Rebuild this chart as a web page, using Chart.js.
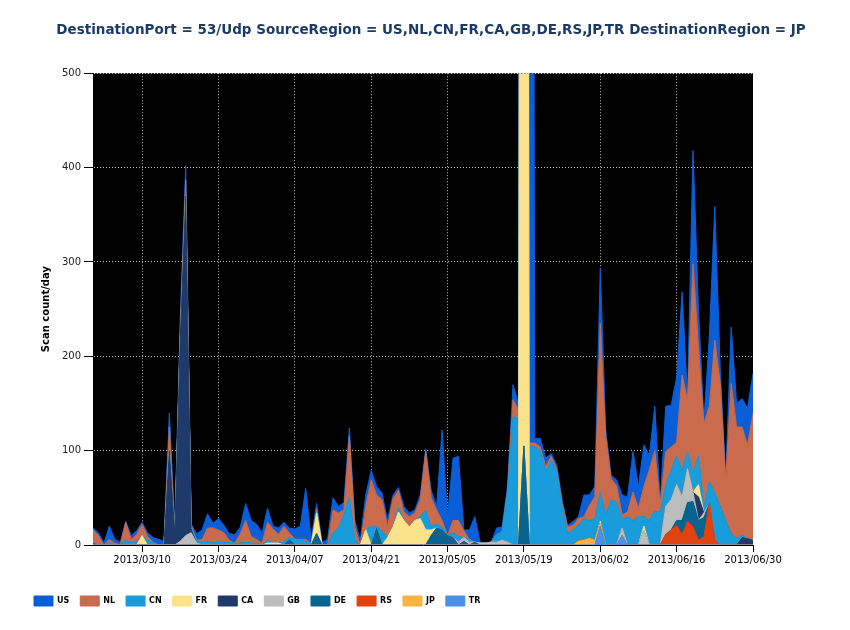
<!DOCTYPE html>
<html>
<head>
<meta charset="utf-8">
<script src="https://cdn.jsdelivr.net/npm/chart.js@4.4.0/dist/chart.umd.min.js"></script>
<style>
  html, body { margin: 0; padding: 0; background: #fff; }
</style>
</head>
<body>
<canvas id="scanChart" width="850" height="630"></canvas>
<script>
// daily categories 2013/03/01 .. 2013/06/30
const days = [];
for (let t = Date.UTC(2013, 2, 1); t <= Date.UTC(2013, 5, 30); t += 86400000) {
  const d = new Date(t);
  days.push(d.getUTCFullYear() + "/" + String(d.getUTCMonth() + 1).padStart(2, "0") + "/" + String(d.getUTCDate()).padStart(2, "0"));
}

const tickLabels = ["2013/03/10", "2013/03/24", "2013/04/07", "2013/04/21", "2013/05/05",
  "2013/05/19", "2013/06/02", "2013/06/16", "2013/06/30"];

// scan counts per day (layer thickness in the stack)
const US = [
  2, 3, 2, 14, 4, 3, 1, 4, 4, 2,
  4, 5, 6, 4, 15, 8, 10, 15, 1, 7,
  10, 15, 5, 12, 8, 7, 9, 7, 18, 17,
  16, 11, 15, 3, 7, 4, 5, 11, 14, 54,
  4, 6, 3, 6, 13, 7, 8, 9, 7, 5,
  12, 10, 9, 7, 6, 4, 3, 6, 4, 3,
  5, 3, 8, 4, 96, 20, 66, 68, 1, 10,
  27, 0, 0, 0, 7, 5, 4, 16, 7, 30,
  3000, 5, 9, 9, 3, 4, 4, 2, 4, 2,
  23, 11, 11, 58, 7, 4, 6, 21, 16, 43,
  23, 44, 15, 47, 2, 48, 44, 69, 88, 3,
  120, 40, 3, 74, 142, 14, 2, 60, 25, 30,
  39, 43
];
const NL = [
  14, 10, 0, 3, 2, 0, 19, 3, 7, 12,
  4, 0, 0, 0, 25, 0, 10, 15, 2, 0,
  3, 14, 16, 12, 10, 2, 0, 10, 23, 7,
  4, 2, 19, 15, 9, 17, 5, 0, 1, 2,
  0, 2, 0, 0, 24, 16, 5, 64, 14, 0,
  25, 49, 34, 33, 12, 30, 18, 9, 11, 8,
  18, 62, 30, 15, 7, 0, 13, 17, 7, 0,
  0, 0, 0, 0, 0, 0, 3, 18, 9, 5,
  3, 4, 4, 5, 4, 3, 3, 7, 5, 7,
  2, 16, 23, 179, 83, 22, 18, 5, 5, 30,
  9, 32, 54, 64, 9, 35, 25, 14, 101, 55,
  222, 115, 88, 80, 162, 130, 43, 159, 118, 115,
  99, 134
];
const CN = [
  0, 0, 0, 3, 0, 0, 5, 3, 4, 0,
  5, 3, 0, 0, 0, 0, 0, 2, 2, 3,
  3, 4, 2, 4, 3, 3, 2, 2, 3, 2,
  2, 0, 3, 0, 0, 3, 2, 6, 5, 4,
  2, 2, 0, 0, 13, 18, 32, 51, 5, 0,
  0, 20, 1, 15, 0, 0, 5, 0, 0, 0,
  2, 21, 4, 4, 3, 0, 5, 6, 0, 3,
  0, 0, 0, 0, 8, 9, 52, 136, 134, 20,
  105, 104, 100, 78, 90, 78, 41, 12, 16, 17,
  23, 19, 23, 31, 32, 48, 45, 9, 30, 26,
  30, 10, 26, 36, 35, 23, 31, 31, 28, 18,
  20, 31, 7, 23, 50, 41, 26, 12, 7, 2,
  0, 0
];
const FR = [
  0, 0, 0, 0, 0, 0, 0, 0, 0, 10,
  0, 0, 0, 0, 0, 0, 0, 0, 0, 0,
  0, 0, 0, 0, 0, 0, 0, 0, 0, 0,
  0, 0, 2, 2, 2, 0, 0, 0, 0, 0,
  0, 22, 0, 0, 0, 0, 0, 0, 0, 0,
  16, 0, 0, 0, 8, 19, 35, 26, 19, 26,
  28, 16, 6, 0, 0, 0, 0, 0, 0, 0,
  0, 0, 0, 0, 0, 0, 0, 0, 0, 3000,
  0, 0, 0, 0, 0, 0, 0, 0, 0, 0,
  0, 0, 0, 2, 0, 0, 0, 0, 0, 0,
  0, 5, 0, 0, 0, 0, 0, 0, 0, 0,
  0, 13, 0, 0, 0, 0, 0, 0, 0, 0,
  0, 0
];
const CA = [
  0, 0, 0, 0, 0, 0, 0, 0, 0, 0,
  0, 0, 0, 0, 100, 12, 216, 360, 4, 0,
  0, 0, 0, 0, 0, 0, 0, 0, 0, 0,
  0, 0, 0, 0, 0, 0, 0, 0, 0, 0,
  0, 0, 0, 0, 0, 0, 0, 0, 0, 0,
  0, 0, 0, 0, 0, 0, 0, 0, 0, 0,
  0, 0, 0, 0, 0, 0, 0, 0, 0, 0,
  0, 0, 0, 0, 0, 0, 0, 0, 0, 0,
  0, 0, 0, 0, 0, 0, 0, 0, 0, 0,
  0, 0, 0, 0, 0, 0, 0, 0, 0, 0,
  0, 0, 0, 0, 0, 0, 0, 0, 0, 0,
  0, 25, 0, 0, 0, 0, 0, 0, 0, 8,
  7, 5
];
const GB = [
  0, 0, 0, 0, 0, 0, 0, 0, 0, 0,
  0, 0, 0, 0, 0, 0, 4, 10, 13, 2,
  0, 0, 0, 0, 0, 0, 0, 0, 0, 0,
  0, 0, 0, 0, 0, 0, 0, 0, 0, 0,
  0, 0, 0, 0, 0, 0, 0, 0, 0, 0,
  0, 0, 0, 0, 0, 0, 0, 0, 0, 0,
  0, 0, 0, 0, 0, 0, 0, 3, 4, 3,
  0, 2, 2, 3, 3, 5, 3, 0, 0, 0,
  0, 0, 0, 0, 0, 0, 0, 0, 0, 0,
  0, 0, 0, 0, 0, 0, 0, 8, 0, 0,
  0, 15, 0, 0, 0, 30, 32, 38, 25, 36,
  10, 0, 5, 0, 0, 0, 0, 0, 0, 0,
  0, 0
];
const DE = [
  2, 0, 0, 0, 0, 0, 0, 0, 0, 0,
  0, 0, 0, 0, 0, 0, 0, 0, 0, 0,
  0, 0, 0, 0, 0, 0, 0, 0, 0, 0,
  0, 0, 0, 0, 0, 0, 6, 0, 0, 0,
  0, 12, 0, 0, 0, 0, 0, 0, 0, 0,
  0, 0, 18, 0, 0, 0, 0, 0, 0, 0,
  0, 0, 10, 18, 16, 10, 8, 0, 4, 0,
  3, 0, 0, 0, 0, 0, 0, 0, 0, 105,
  0, 0, 0, 0, 0, 0, 0, 0, 0, 0,
  0, 0, 0, 0, 0, 0, 0, 0, 0, 0,
  0, 0, 0, 0, 0, 0, 0, 5, 15, 20,
  27, 21, 20, 0, 0, 0, 0, 0, 0, 0,
  0, 0
];
const RS = [
  0, 0, 0, 0, 0, 0, 0, 0, 0, 0,
  0, 0, 0, 0, 0, 0, 0, 0, 0, 0,
  0, 0, 0, 0, 0, 0, 0, 0, 0, 0,
  0, 0, 0, 0, 0, 0, 0, 0, 0, 0,
  0, 0, 0, 0, 0, 0, 0, 0, 0, 0,
  0, 0, 0, 0, 0, 0, 0, 0, 0, 0,
  0, 0, 0, 0, 0, 0, 0, 0, 0, 0,
  0, 0, 0, 0, 0, 0, 0, 0, 0, 0,
  0, 0, 0, 0, 0, 0, 0, 0, 0, 0,
  0, 0, 0, 0, 0, 0, 0, 0, 0, 0,
  0, 0, 0, 0, 0, 11, 16, 21, 11, 25,
  19, 5, 9, 44, 5, 0, 0, 0, 0, 0,
  0, 0
];
const JP = [
  0, 0, 0, 0, 0, 0, 0, 0, 0, 0,
  0, 0, 0, 0, 0, 0, 0, 0, 0, 0,
  0, 0, 0, 0, 0, 0, 0, 0, 0, 0,
  0, 0, 0, 0, 0, 0, 0, 0, 0, 0,
  0, 0, 0, 0, 0, 0, 0, 0, 0, 0,
  0, 0, 0, 0, 0, 0, 0, 0, 0, 0,
  0, 0, 0, 0, 0, 0, 0, 0, 0, 0,
  0, 0, 0, 0, 0, 0, 0, 0, 0, 0,
  0, 0, 0, 0, 0, 0, 0, 0, 0, 4,
  5, 7, 5, 3, 0, 0, 0, 0, 0, 0,
  0, 0, 0, 0, 0, 0, 0, 0, 0, 0,
  0, 0, 0, 0, 0, 0, 0, 0, 0, 0,
  0, 0
];
const TR = [
  0, 0, 0, 0, 0, 0, 0, 0, 0, 0,
  0, 0, 0, 0, 0, 0, 0, 0, 0, 0,
  0, 0, 0, 0, 0, 0, 0, 0, 0, 0,
  0, 0, 0, 0, 0, 0, 0, 0, 0, 0,
  0, 0, 0, 0, 0, 0, 0, 0, 0, 0,
  0, 0, 0, 0, 0, 0, 0, 0, 0, 0,
  0, 0, 0, 0, 0, 0, 0, 0, 0, 0,
  0, 0, 0, 0, 0, 0, 0, 0, 0, 0,
  0, 0, 0, 0, 0, 0, 0, 0, 0, 0,
  0, 0, 0, 20, 0, 0, 0, 10, 0, 0,
  0, 0, 0, 0, 0, 0, 0, 0, 0, 0,
  0, 0, 0, 0, 0, 0, 0, 0, 0, 0,
  0, 0
];

// bottom of the stack first; the legend is shown reversed (US first)
const stackOrder = ["TR", "JP", "RS", "DE", "GB", "CA", "FR", "CN", "NL", "US"];
const seriesData = { US, NL, CN, FR, CA, GB, DE, RS, JP, TR };
const colors = {
  US: "#0a5fd8",
  NL: "#c96b4c",
  CN: "#189cdc",
  FR: "#fde28c",
  CA: "#1d3a6a",
  GB: "#bdbdbd",
  DE: "#07648f",
  RS: "#e0430f",
  JP: "#f8b340",
  TR: "#4a8fe8"
};

const isTick = (i) => tickLabels.includes(days[i]);
const gridWhite = "rgba(255,255,255,0.75)";
const font = "DejaVu Sans";

// black plot background
const plotBackground = {
  id: "plotBackground",
  beforeDraw(chart) {
    const { ctx, chartArea: a } = chart;
    ctx.save();
    ctx.fillStyle = "#000";
    ctx.fillRect(a.left, a.top, a.right - a.left, a.bottom - a.top);
    ctx.restore();
  }
};

new Chart(document.getElementById("scanChart"), {
  type: "line",
  data: {
    labels: days,
    datasets: stackOrder.map((name, i) => ({
      label: name,
      data: seriesData[name],
      backgroundColor: colors[name],
      borderColor: colors[name],
      borderWidth: 1,
      pointRadius: 0,
      pointHoverRadius: 0,
      tension: 0,
      fill: i === 0 ? "origin" : "-1"
    }))
  },
  options: {
    responsive: false,
    animation: false,
    layout: { padding: { left: 23, right: 11, top: 22, bottom: 14 } },
    plugins: {
      title: {
        display: true,
        text: "DestinationPort = 53/Udp SourceRegion = US,NL,CN,FR,CA,GB,DE,RS,JP,TR DestinationRegion = JP",
        color: "#1c3b64",
        font: { family: font, size: 13.5, weight: "bold" },
        padding: { top: 0, bottom: 35 }
      },
      legend: {
        position: "bottom",
        align: "start",
        reverse: true,
        labels: {
          boxWidth: 19,
          boxHeight: 10,
          padding: 11,
          color: "#000",
          font: { family: font, size: 8, weight: "bold" }
        }
      },
      tooltip: { enabled: false }
    },
    scales: {
      x: {
        type: "category",
        offset: false,
        ticks: {
          autoSkip: false,
          maxRotation: 0,
          minRotation: 0,
          padding: 2,
          color: "#000",
          font: { family: font, size: 10 },
          callback: (value, index) => (isTick(index) ? days[index] : "")
        },
        grid: {
          color: (c) => (isTick(c.index) ? gridWhite : "transparent"),
          tickColor: (c) => (isTick(c.index) ? "#000" : "transparent"),
          tickLength: 7
        },
        border: { display: true, color: "#000", dash: [1, 2] },
        afterFit: (s) => { s.height = 40; }
      },
      y: {
        stacked: true,
        min: 0,
        max: 500,
        ticks: {
          stepSize: 100,
          padding: 3,
          color: "#222",
          font: { family: font, size: 10 }
        },
        grid: { color: gridWhite, tickColor: "#000", tickLength: 9 },
        border: { display: true, color: "#000", dash: [1, 2] },
        title: {
          display: true,
          text: "Scan count/day",
          color: "#000",
          font: { family: font, size: 10, weight: "bold" },
          padding: { top: 17, bottom: 0 }
        },
        afterFit: (s) => { s.width = 70; }
      },
      // empty right-hand box so the plot ends where the original does
      yPad: {
        position: "right",
        display: true,
        grid: { display: false },
        border: { display: false },
        ticks: { display: false },
        afterFit: (s) => { s.width = 86; }
      }
    }
  },
  plugins: [plotBackground]
});
</script>
</body>
</html>
